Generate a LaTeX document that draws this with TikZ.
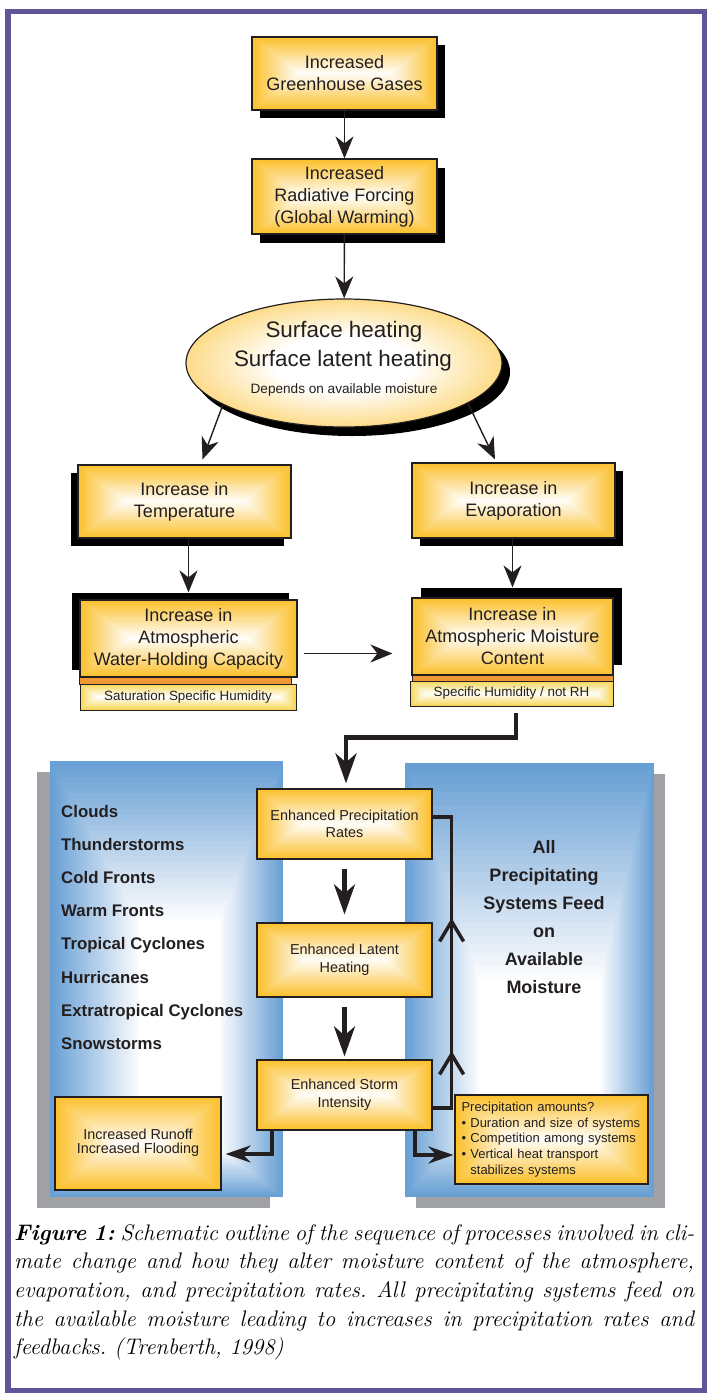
\documentclass[tikz,border=0pt]{standalone}
\usepackage{fontspec}
\newfontfamily\dg{Liberation Sans}
\usetikzlibrary{arrows.meta,shapes.geometric,decorations.markings,calc,shadows}
\definecolor{ygold}{RGB}{251,192,45}
\definecolor{ysub}{RGB}{247,214,85}
\definecolor{ostrip}{RGB}{240,152,52}
\definecolor{pblue}{RGB}{104,159,212}
\definecolor{pgray}{RGB}{160,161,165}
\definecolor{framepurple}{RGB}{94,86,150}
\definecolor{ink}{RGB}{35,31,32}
\colorlet{ygoldmid}{ygold!60!white}
\pgfdeclareradialshading{ellshade}{\pgfpoint{0bp}{0bp}}{color(0bp)=(white); color(11bp)=(white); color(26bp)=(ygoldmid); color(38bp)=(ygold); color(50bp)=(ygold); color(75bp)=(ygold)}
\tikzset{
  rgrad/.style={path picture={%
    \pgfpointdiff{\pgfpointanchor{path picture bounding box}{south west}}{\pgfpointanchor{path picture bounding box}{north east}}%
    \pgfgetlastxy{\gw}{\gh}%
    \foreach \i in {0,...,24}{%
      \pgfmathsetmacro\sy{\i*\gh/50}%
      \pgfmathsetmacro\sx{1.3*\sy}%
      \pgfmathsetmacro\pc{100-4*\i}%
      \fill[#1!\pc!white] ([xshift=\sx pt,yshift=\sy pt]path picture bounding box.south west) rectangle ([xshift=-\sx pt,yshift=-\sy pt]path picture bounding box.north east);
    }}},
  bgrad/.style n args={4}{path picture={%
    \foreach \i in {0,...,30}{%
      \pgfmathsetmacro\gf{\i/30}%
      \pgfmathsetmacro\pc{100*(1-\gf)}%
      \fill[pblue!\pc!white] ([xshift={#1*\gf*1pt},yshift={#4*\gf*1pt}]path picture bounding box.south west) rectangle ([xshift={-#3*\gf*1pt},yshift={-#2*\gf*1pt}]path picture bounding box.north east);
    }}},
  panelnode/.style={rectangle, fill=pblue, inner sep=0pt},
  ybox/.style={rectangle, draw=ink, line width=1.2pt, fill=ygold, rgrad=ygold, inner sep=0pt, align=center, text=ink, font=\dg\fontsize{18}{22}\selectfont},
  cbox/.style={rectangle, draw=ink, line width=1.2pt, fill=ygold, rgrad=ygold, inner sep=0pt, align=center, text=ink, font=\dg\fontsize{14.4}{17.5}\selectfont},
  subbox/.style={rectangle, draw=ink, line width=0.9pt, fill=ysub, rgrad=ysub, inner sep=0pt, align=center, text=ink, font=\dg\fontsize{13.4}{16}\selectfont},
  stripbox/.style={rectangle, draw=ink, line width=0.5pt, fill=ostrip, inner sep=0pt},
  lbl/.style={anchor=base west, inner sep=0pt, text=ink, font=\dg\bfseries\fontsize{16.8}{20}\selectfont},
  rlbl/.style={anchor=base, inner sep=0pt, text=ink, font=\dg\bfseries\fontsize{18}{22}\selectfont},
  elltext/.style={anchor=base, inner sep=0pt, text=ink},
  thinarr/.style={draw=ink, line width=1.4pt, -{Stealth[length=22pt,width=18pt,inset=7pt]}},
  thickarr/.style={draw=ink, line width=4.3pt, -{Stealth[length=30pt,width=21pt,inset=9pt]}},
  medarr/.style={draw=ink, line width=3.5pt, -{Stealth[length=25pt,width=17pt,inset=8pt]}},
  capt/.style={anchor=base west, inner sep=0pt, text=black, font=\fontsize{22.5}{27}\selectfont\itshape\frenchspacing},
}
\begin{document}
\begin{tikzpicture}[x=1pt,y=-1pt]
\useasboundingbox (0,0) rectangle (708,1393);
\fill[white] (0,0) rectangle (708,1393);
\draw[line width=5.5pt, framepurple] (8,11.5) rectangle (704.5,1390.5);

% blue panels
\node[panelnode, general shadow={fill=pgray,shadow xshift=-13pt,shadow yshift=-11pt}, bgrad={90}{159}{63}{47}, minimum width=233, minimum height=436] (lp) at (166.5,979) {};
\node[panelnode, general shadow={fill=pgray,shadow xshift=11pt,shadow yshift=-11pt}, bgrad={75}{217}{54}{77}, minimum width=249, minimum height=434] (rp) at (529.5,980) {};

\node[lbl] (l1) at (61,817) {Clouds};
\node[lbl] (l2) at (61,850) {Thunderstorms};
\node[lbl] (l3) at (61,883.3) {Cold Fronts};
\node[lbl] (l4) at (61,916.5) {Warm Fronts};
\node[lbl] (l5) at (61,949.7) {Tropical Cyclones};
\node[lbl] (l6) at (61,983) {Hurricanes};
\node[lbl] (l7) at (61,1016) {Extratropical Cyclones};
\node[lbl] (l8) at (61,1049) {Snowstorms};

\node[rlbl] (r1) at (544,853) {All};
\node[rlbl] (r2) at (544,881) {Precipitating};
\node[rlbl] (r3) at (544,909) {Systems Feed};
\node[rlbl] (r4) at (544,937) {on};
\node[rlbl] (r5) at (544,965) {Available};
\node[rlbl] (r6) at (544,993) {Moisture};

% upper flow
\node[ybox, general shadow={fill=black,shadow xshift=8pt,shadow yshift=-8pt}, minimum width=185, minimum height=73] (b1) at (344.5,73.5) {Increased\\Greenhouse Gases};
\node[ybox, general shadow={fill=black,shadow xshift=8pt,shadow yshift=-9pt}, minimum width=185, minimum height=75] (b2) at (344.5,196.5) {Increased\\Radiative Forcing\\(Global Warming)};
\node[ellipse, draw=ink, line width=1.2pt, shade, shading=ellshade, general shadow={fill=black,shadow xshift=8pt,shadow yshift=-9pt}, minimum width=316, minimum height=128, inner sep=0pt] (ell) at (344,363) {};
\node[elltext, font=\dg\fontsize{22.4}{26}\selectfont] (e1) at (344,337.7) {Surface heating};
\node[elltext, font=\dg\fontsize{22.4}{26}\selectfont] (e2) at (343,366) {Surface latent heating};
\node[elltext, font=\dg\fontsize{13.6}{16}\selectfont] (e3) at (344,393.3) {Depends on available moisture};

\node[ybox, general shadow={fill=black,shadow xshift=-7pt,shadow yshift=-8pt}, minimum width=213, minimum height=73] (b3) at (184.5,501.5) {Increase in\\Temperature};
\node[ybox, general shadow={fill=black,shadow xshift=8pt,shadow yshift=-8pt}, minimum width=203, minimum height=75] (b4) at (513.5,500.5) {Increase in\\Evaporation};
\node[ybox, general shadow={fill=black,shadow xshift=-8pt,shadow yshift=7pt}, minimum width=217, minimum height=77] (b5) at (188.5,638.5) {Increase in\\Atmospheric\\Water-Holding Capacity};
\node[ybox, general shadow={fill=black,shadow xshift=9pt,shadow yshift=10pt}, minimum width=201, minimum height=77] (b6) at (512.5,636.5) {Increase in\\Atmospheric Moisture\\Content};
\node[stripbox, minimum width=212, minimum height=7] (st5) at (185.5,680.5) {};
\node[stripbox, minimum width=201, minimum height=6] (st6) at (512.5,678) {};
\node[subbox, minimum width=216, minimum height=26] (sub5) at (188,697) {Saturation Specific Humidity};
\node[subbox, minimum width=203, minimum height=25] (sub6) at (511.5,693.5) {Specific Humidity / not RH};

% lower flow
\node[cbox, minimum width=175, minimum height=70] (epr) at (344.5,824) {Enhanced Precipitation\\Rates};
\node[cbox, minimum width=175, minimum height=74] (eln) at (344.5,960) {Enhanced Latent\\Heating};
\node[cbox, minimum width=175, minimum height=70] (esi) at (344.5,1095) {Enhanced Storm\\Intensity};
\node[cbox, minimum width=166, minimum height=93] (runoff) at (138,1143.5) {\raisebox{5pt}{\shortstack{Increased Runoff\\Increased Flooding}}};
\node[cbox, minimum width=193, minimum height=89, align=left, text width=180pt, font=\dg\fontsize{13}{15.7}\selectfont] (pa) at (551.5,1139.5) {Precipitation amounts?\\\textbullet\ Duration and size of systems\\\textbullet\ Competition among systems\\\textbullet\ Vertical heat transport\\\phantom{\textbullet\ }stabilizes systems};

% connectors
\draw[thinarr] (b1) -- (b2);
\draw[thinarr] (b2) -- (ell);
\draw[thinarr] (ell.199) -- ([xshift=18pt,yshift=5pt]b3.north);
\draw[thinarr] (ell.342) -- ([xshift=-18.5pt,yshift=3pt]b4.north);
\draw[thinarr] (b3.south -| b5.north) -- ([yshift=7pt]b5.north);
\draw[thinarr] (b4.south -| b6.north) -- ([yshift=10pt]b6.north);
\draw[thinarr] ([xshift=6pt,yshift=-15pt]b5.east) -- ([xshift=-19pt,yshift=-17pt]b6.west);

\draw[thickarr] ($(sub6.south)+(4.5,7)$) -- ++(0,24) -| ([xshift=1.5pt,yshift=5pt]epr.north);
\draw[thickarr] ([yshift=-9pt]epr.south) -- ([yshift=8pt]eln.north);
\draw[thickarr] ([yshift=-9pt]eln.south) -- ([yshift=3pt]esi.north);

\draw[draw=ink, line width=3.5pt, postaction={decorate}, decoration={markings,
   mark=at position 76pt with {\arrow{Straight Barb[length=20pt,width=24pt]}},
   mark=at position 209pt with {\arrow{Straight Barb[length=20pt,width=24pt]}}}]
   ([yshift=-13pt]esi.east) -- ++(19,0) |- ([yshift=7pt]epr.east);

\draw[medarr] ([xshift=-72.5pt]esi.south) |- ([xshift=4pt,yshift=-10.5pt]runoff.east);
\draw[medarr] ([xshift=70.5pt]esi.south) |- ([xshift=-1pt,yshift=-15.5pt]pa.west);

% caption
\node[capt] (c1) at (14,1240) {\makebox[680pt][s]{\textbf{Figure 1:} Schematic outline of the sequence of processes involved in cli-}};
\node[capt] (c2) at (14,1268.7) {\makebox[680pt][s]{mate change and how they alter moisture content of the atmosphere,}};
\node[capt] (c3) at (14,1297.4) {\makebox[680pt][s]{evaporation, and precipitation rates. All precipitating systems feed on}};
\node[capt] (c4) at (14,1326.1) {\makebox[680pt][s]{the available moisture leading to increases in precipitation rates and}};
\node[capt] (c5) at (14,1354.8) {feedbacks. (Trenberth, 1998)};
\end{tikzpicture}
\end{document}
